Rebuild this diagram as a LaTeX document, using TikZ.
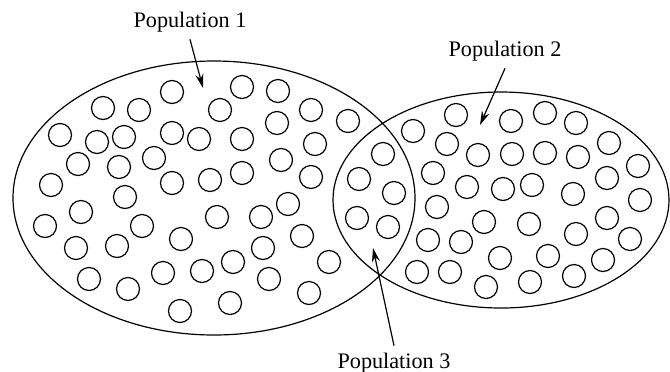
\documentclass[tikz,border=0pt]{standalone}
\usepackage{fontspec}
\setmainfont{Liberation Serif}
\usetikzlibrary{arrows.meta}

\begin{document}
\begin{tikzpicture} [x=0.5pt,y=-0.5pt,line width=0.6pt,
  >={Stealth[length=7pt,width=4pt]},
  every node/.style={font=\fontsize{11.1}{13}\selectfont}]
\useasboundingbox (0,0) rectangle (670,371);
% the two populations
\draw (214,198) ellipse [x radius=201, y radius=137];
\draw (501,200) ellipse [x radius=168, y radius=108];
% individuals
\foreach \x/\y in {172/92,242/87,278/91,103/108,139/110,220/110,311/110,348/121,
 60/135,97/142,124/137,172/133,199/139,277/123,242/139,315/144,
 78/164,119/167,154/158,281/160,51/185,172/183,210/180,242/173,311/177,
 125/197,81/212,288/204,45/226,142/226,217/217,261/217,
 76/248,117/246,181/239,263/248,302/236,233/262,329/262,
 89/279,163/273,202/271,269/279,128/289,230/303,309/293,180/311} {
 \draw (\x,\y) circle (11.5);
}
\foreach \x/\y in {383/154,359/179,394/193,357/218,388/227} {
 \draw (\x,\y) circle (11.5);
}
\foreach \x/\y in {413/131,456/115,511/121,545/113,576/123,
 447/144,478/155,512/154,545/153,578/157,609/143,638/166,607/178,640/200,
 433/173,467/187,503/189,532/185,573/194,437/207,484/222,529/224,576/234,607/218,
 428/240,461/242,500/258,548/256,603/260,630/239,
 417/272,450/272,486/287,530/282,574/276} {
 \draw (\x,\y) circle (11.5);
}
% labels
\node (pop1) at (190,22) {Population 1};
\node (pop2) at (505,51) {Population 2};
\node (pop3) at (394,363) {Population 3};
\coordinate (tip1) at (203,88);
\coordinate (tip2) at (480,125);
\coordinate (tip3) at (373,248);
\draw[->] (pop1.south) -- (tip1);
\draw[->] (pop2.south) -- (tip2);
\draw[->] (pop3.north) -- (tip3);
\end{tikzpicture}
\end{document}
